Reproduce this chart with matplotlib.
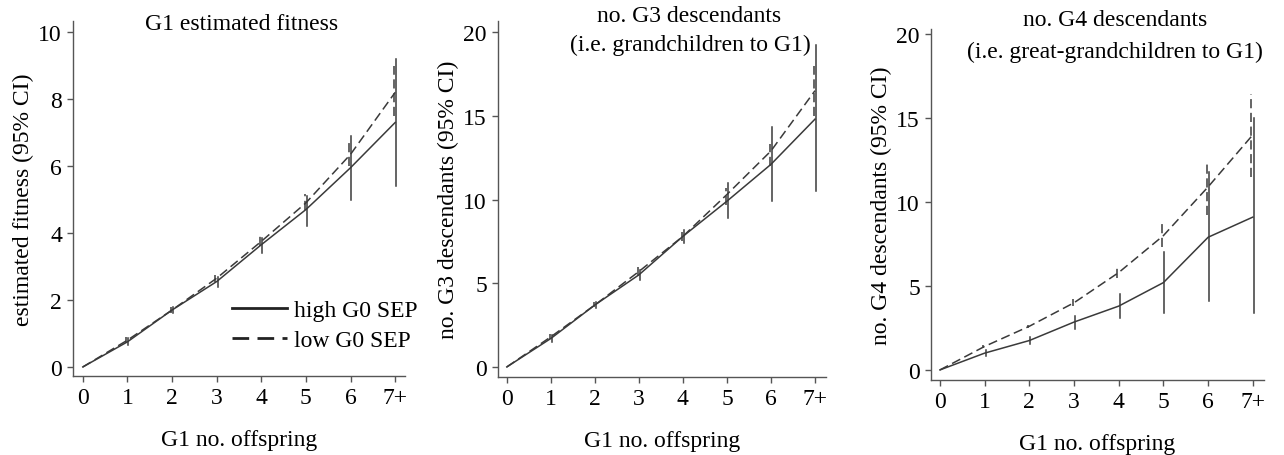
#!/usr/bin/env python3
# -*- coding: utf-8 -*-
# Trois panneaux : fitness estimee et descendants G3 / G4 selon le nombre d'enfants G1

import matplotlib
matplotlib.use("Agg")
import matplotlib.pyplot as plt

# Donnees
x_labels = ["0", "1", "2", "3", "4", "5", "6", "7+"]
x_pos = [0, 1, 2, 3, 4, 5, 6, 7]

# G1 estimated fitness
fit_high = [0, 0.75, 1.7, 2.55, 3.65, 4.7, 5.95, 7.3]
fit_high_lo = [0, 0.65, 1.6, 2.4, 3.4, 4.2, 5.0, 5.4]
fit_high_hi = [0, 0.85, 1.8, 2.7, 3.85, 5.1, 6.9, 9.2]
fit_low = [0, 0.8, 1.7, 2.65, 3.75, 4.9, 6.35, 8.2]
fit_low_lo = [0, 0.72, 1.62, 2.55, 3.6, 4.7, 6.0, 7.5]
fit_low_hi = [0, 0.88, 1.78, 2.75, 3.9, 5.15, 6.7, 9.0]

# no. G3 descendants
g3_high = [0, 1.7, 3.7, 5.5, 7.8, 9.9, 12.1, 14.8]
g3_high_lo = [0, 1.5, 3.55, 5.2, 7.4, 8.9, 9.9, 10.5]
g3_high_hi = [0, 1.9, 3.9, 5.8, 8.2, 11.0, 14.3, 19.2]
g3_low = [0, 1.8, 3.7, 5.7, 7.8, 10.3, 12.9, 16.5]
g3_low_lo = [0, 1.65, 3.6, 5.45, 7.55, 9.7, 12.0, 15.0]
g3_low_hi = [0, 1.95, 3.85, 5.95, 8.05, 10.7, 13.3, 18.0]

# no. G4 descendants
g4_high = [0, 1.0, 1.75, 2.85, 3.8, 5.2, 7.9, 9.1]
g4_high_lo = [0, 0.8, 1.55, 2.45, 3.1, 3.4, 4.1, 3.4]
g4_high_hi = [0, 1.2, 1.95, 3.2, 4.5, 7.0, 11.8, 15.0]
g4_low = [0, 1.4, 2.6, 4.0, 5.8, 8.0, 10.9, 14.0]
g4_low_lo = [0, 1.3, 2.5, 3.8, 5.5, 7.3, 9.2, 11.5]
g4_low_hi = [0, 1.5, 2.7, 4.2, 6.2, 8.8, 12.4, 16.4]

panels = [
   dict(high=fit_high, hlo=fit_high_lo, hhi=fit_high_hi,
        low=fit_low, llo=fit_low_lo, lhi=fit_low_hi,
        ylabel="estimated fitness (95% CI)", yticks=[0, 2, 4, 6, 8, 10],
        box=(73, 405, 22, 377), ylim=(-0.27, 10.33), xlim=(-0.22, 7.22),
        titles=[("G1 estimated fitness", 242, 25)]),
   dict(high=g3_high, hlo=g3_high_lo, hhi=g3_high_hi,
        low=g3_low, llo=g3_low_lo, lhi=g3_low_hi,
        ylabel="no. G3 descendants (95% CI)", yticks=[0, 5, 10, 15, 20],
        box=(498, 826, 22, 378), ylim=(-0.6, 20.66), xlim=(-0.2, 7.25),
        titles=[("no. G3 descendants", 689, 17),
                ("(i.e. grandchildren to G1)", 690, 45)]),
   dict(high=g4_high, hlo=g4_high_lo, hhi=g4_high_hi,
        low=g4_low, llo=g4_low_lo, lhi=g4_low_hi,
        ylabel="no. G4 descendants (95% CI)", yticks=[0, 5, 10, 15, 20],
        box=(931, 1264, 30, 381), ylim=(-0.6, 20.3), xlim=(-0.2, 7.25),
        titles=[("no. G4 descendants", 1115, 21),
                ("(i.e. great-grandchildren to G1)", 1115, 52)]),
]

W, H = 1284, 456
FS = 17
plt.rcParams['font.family'] = ['Liberation Serif', 'DejaVu Serif']
plt.rcParams['font.size'] = FS
col = "#3a3a3a"

fig = plt.figure(figsize=(W/100, H/100), dpi=100)

for i, p in enumerate(panels):
   l, r, t, b = p["box"]
   ax = fig.add_axes([l/W, (H-b)/H, (r-l)/W, (b-t)/H])
   # Courbes
   ax.plot(x_pos, p["high"], color=col, lw=1.1, ls="-", label="high G0 SEP")
   ax.plot(x_pos, p["low"], color=col, lw=1.1, ls=(0, (6, 3)), label="low G0 SEP")
   # Intervalles de confiance
   for j in range(1, len(x_pos)):
      ax.plot([x_pos[j] + 0.02]*2, [p["hlo"][j], p["hhi"][j]], color=col, lw=1.1)
      ax.plot([x_pos[j] - 0.03]*2, [p["llo"][j], p["lhi"][j]], color=col, lw=1.1,
              ls=(0, (6, 3)))
   ax.set_xlim(*p["xlim"])
   ax.set_ylim(*p["ylim"])
   ax.set_xticks(x_pos)
   ax.set_xticklabels(x_labels)
   ax.set_yticks(p["yticks"])
   ax.spines["top"].set_visible(False)
   ax.spines["right"].set_visible(False)
   for s in ("left", "bottom"):
      ax.spines[s].set_color("#555555")
      ax.spines[s].set_linewidth(1.0)
   ax.tick_params(length=4, width=1.0, color="#555555", labelsize=FS, pad=4)
   ax.set_xlabel("G1 no. offspring", fontsize=FS, labelpad=15)
   ax.set_ylabel(p["ylabel"], fontsize=FS, labelpad=3)
   for txt, tx, ty in p["titles"]:
      fig.text(tx/W, 1 - ty/H, txt, ha="center", va="center", fontsize=FS)
   if i == 0:
      leg = ax.legend(loc="upper left", frameon=False, fontsize=FS, handlelength=2.3,
                      handletextpad=0.3, labelspacing=0.35, borderaxespad=0,
                      borderpad=0, bbox_to_anchor=(0.48, 0.215))
      for h in leg.get_lines():
         h.set_linewidth(2.0)
         h.set_color("#222222")

fig.savefig("out.png", dpi=100)
